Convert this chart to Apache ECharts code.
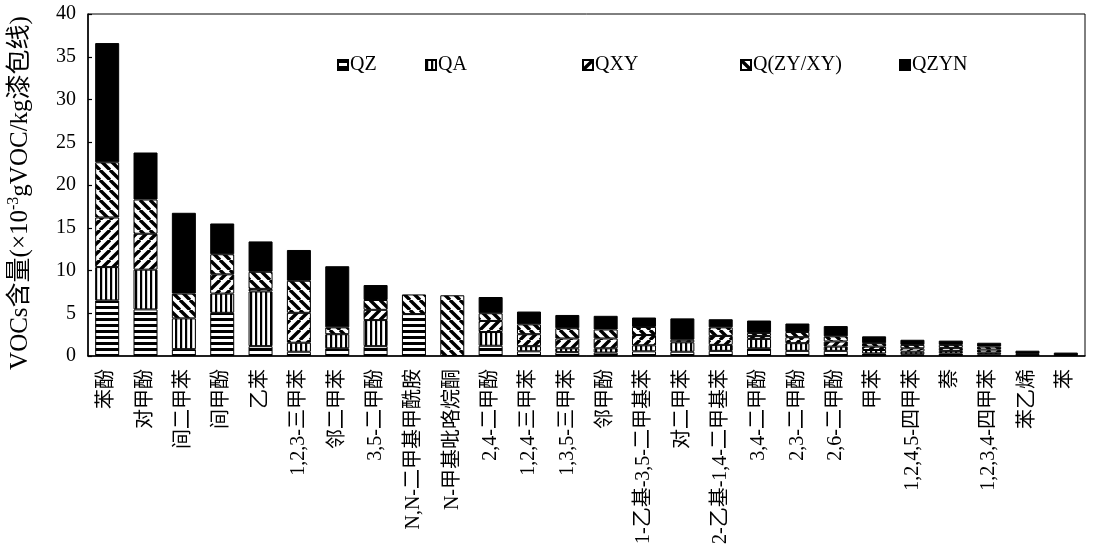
<!DOCTYPE html>
<html>
<head>
<meta charset="utf-8">
<script src="https://cdn.jsdelivr.net/npm/echarts@6/dist/echarts.min.js"></script>
<style>
  html, body { margin: 0; padding: 0; background: #fff; }
  #chart { width: 1095px; height: 550px; }
</style>
</head>
<body>
<div id="chart"></div>
<script>
// Compounds, ordered by total content
const categories = ['苯酚','对甲酚','间二甲苯','间甲酚','乙苯','1,2,3-三甲苯','邻二甲苯','3,5-二甲酚',
  'N,N-二甲基甲酰胺','N-甲基吡咯烷酮','2,4-二甲酚','1,2,4-三甲苯','1,3,5-三甲苯','邻甲酚',
  '1-乙基-3,5-二甲基苯','对二甲苯','2-乙基-1,4-二甲基苯','3,4-二甲酚','2,3-二甲酚','2,6-二甲酚',
  '甲苯','1,2,4,5-四甲苯','萘','1,2,3,4-四甲苯','苯乙烯','苯'];

// Content per sample (×10^-3 gVOC/kg)
const QZ    = [6.5, 5.45, 0.8, 5.05, 1.15, 0.5, 0.9, 1.15, 4.9, 0, 1.2, 0.55, 0.45, 0.4, 0.55, 0.5, 0.6, 0.9, 0.6, 0.6, 0.3, 0.2, 0.3, 0.2, 0.25, 0];
const QA    = [3.9, 4.65, 3.6, 2.25, 6.4, 1.05, 1.65, 3.05, 0, 0, 1.6, 0.6, 0.45, 0.5, 0.7, 1.1, 0.7, 1.1, 0.9, 0.5, 0.4, 0.3, 0.3, 0.2, 0, 0];
const QXY   = [5.8, 4.2, 0, 2.25, 0.3, 3.5, 0, 1.2, 0, 0, 1.3, 1.4, 1.15, 1.15, 1.2, 0.3, 1.05, 0.35, 0.7, 0.6, 0.4, 0.4, 0.35, 0.35, 0, 0];
const QZYXY = [6.45, 4.0, 2.9, 2.35, 2.0, 3.75, 0.8, 1.15, 2.3, 7.1, 0.9, 1.15, 1.2, 1.05, 0.95, 0, 1.0, 0.35, 0.6, 0.6, 0.4, 0.4, 0.35, 0.35, 0, 0];
const QZYN  = [13.95, 5.5, 9.45, 3.6, 3.55, 3.6, 7.15, 1.75, 0, 0, 1.9, 1.5, 1.55, 1.6, 1.1, 2.5, 0.95, 1.45, 1.0, 1.2, 0.8, 0.6, 0.5, 0.45, 0.37, 0.4];

const seriesNames = ['QZ', 'QA', 'QXY', 'Q(ZY/XY)', 'QZYN'];
const seriesData = [QZ, QA, QXY, QZYXY, QZYN];
const yTicks = { min: 0, max: 40, interval: 5 };

const FONT = '"Liberation Serif", "Times New Roman", "Noto Sans CJK SC", serif';

// Black-and-white hatch fills
function hatch(kind) {
  if (kind === 'solid') return '#000';
  const c = document.createElement('canvas');
  const ctx = c.getContext('2d');
  if (kind === 'h') {
    c.width = 6; c.height = 6;
    ctx.fillStyle = '#fff'; ctx.fillRect(0, 0, 6, 6);
    ctx.fillStyle = '#000'; ctx.fillRect(0, 0, 6, 3);
  } else if (kind === 'v') {
    c.width = 5; c.height = 5;
    ctx.fillStyle = '#fff'; ctx.fillRect(0, 0, 5, 5);
    ctx.fillStyle = '#000'; ctx.fillRect(0, 0, 2.2, 5);
  } else {
    const s = 10;
    c.width = s; c.height = s;
    ctx.fillStyle = '#fff'; ctx.fillRect(0, 0, s, s);
    ctx.strokeStyle = '#000'; ctx.lineWidth = 3.4;
    ctx.beginPath();
    for (let k = -1; k <= 1; k++) {
      if (kind === 'f') { // "/" direction
        ctx.moveTo(k * s, s); ctx.lineTo(k * s + s, 0);
      } else {            // "\" direction
        ctx.moveTo(k * s, 0); ctx.lineTo(k * s + s, s);
      }
    }
    ctx.stroke();
  }
  return { image: c, repeat: 'repeat' };
}

const fills = [hatch('h'), hatch('v'), hatch('f'), hatch('b'), hatch('solid')];
const legendLeft = [337, 425, 582, 740, 899];

const chart = echarts.init(document.getElementById('chart'), null, { renderer: 'canvas' });

chart.setOption({
  animation: false,
  backgroundColor: '#fff',
  grid: {
    left: 88, right: 10, top: 14, bottom: 194,
    containLabel: false, outerBoundsMode: 'none',
    show: true, borderColor: '#000', borderWidth: 1, backgroundColor: 'transparent'
  },
  legend: seriesNames.map((n, i) => ({
    data: [n],
    left: legendLeft[i],
    top: 55,
    padding: 0,
    itemWidth: 10,
    itemHeight: 10,
    itemGap: 2,
    icon: 'rect',
    textStyle: { fontFamily: FONT, fontSize: 20, color: '#000', padding: [0, 0, 0, -3] }
  })),
  xAxis: {
    type: 'category',
    data: categories,
    axisLine: { lineStyle: { color: '#000', width: 1.5 } },
    axisTick: { show: false },
    axisLabel: {
      interval: 0, rotate: 90, margin: 13,
      fontFamily: FONT, fontSize: 20, color: '#000'
    }
  },
  yAxis: {
    type: 'value',
    min: yTicks.min, max: yTicks.max, interval: yTicks.interval,
    splitLine: { show: false },
    axisLine: { show: true, lineStyle: { color: '#000', width: 1.5 } },
    axisTick: { show: true, inside: true, length: 4, lineStyle: { color: '#000', width: 1.2 } },
    axisLabel: { fontFamily: FONT, fontSize: 20, color: '#000', margin: 12 },
    name: '{a|VOCs含量(×10}{s|-3}{a|gVOC/kg漆包线)}',
    nameLocation: 'middle',
    nameRotate: 90,
    nameGap: 54,
    nameTextStyle: {
      padding: [0, 16, 0, 0],
      rich: {
        a: { fontFamily: FONT, fontSize: 25, color: '#000', lineHeight: 28 },
        s: { fontFamily: FONT, fontSize: 16, color: '#000', verticalAlign: 'top', lineHeight: 28 }
      }
    }
  },
  series: seriesNames.map((n, i) => ({
    name: n,
    type: 'bar',
    stack: 'total',
    barWidth: 24,
    data: seriesData[i].map(v => (v > 0 ? v : '-')),
    itemStyle: { color: fills[i], borderColor: '#000', borderWidth: 1 }
  }))
});
</script>
</body>
</html>
